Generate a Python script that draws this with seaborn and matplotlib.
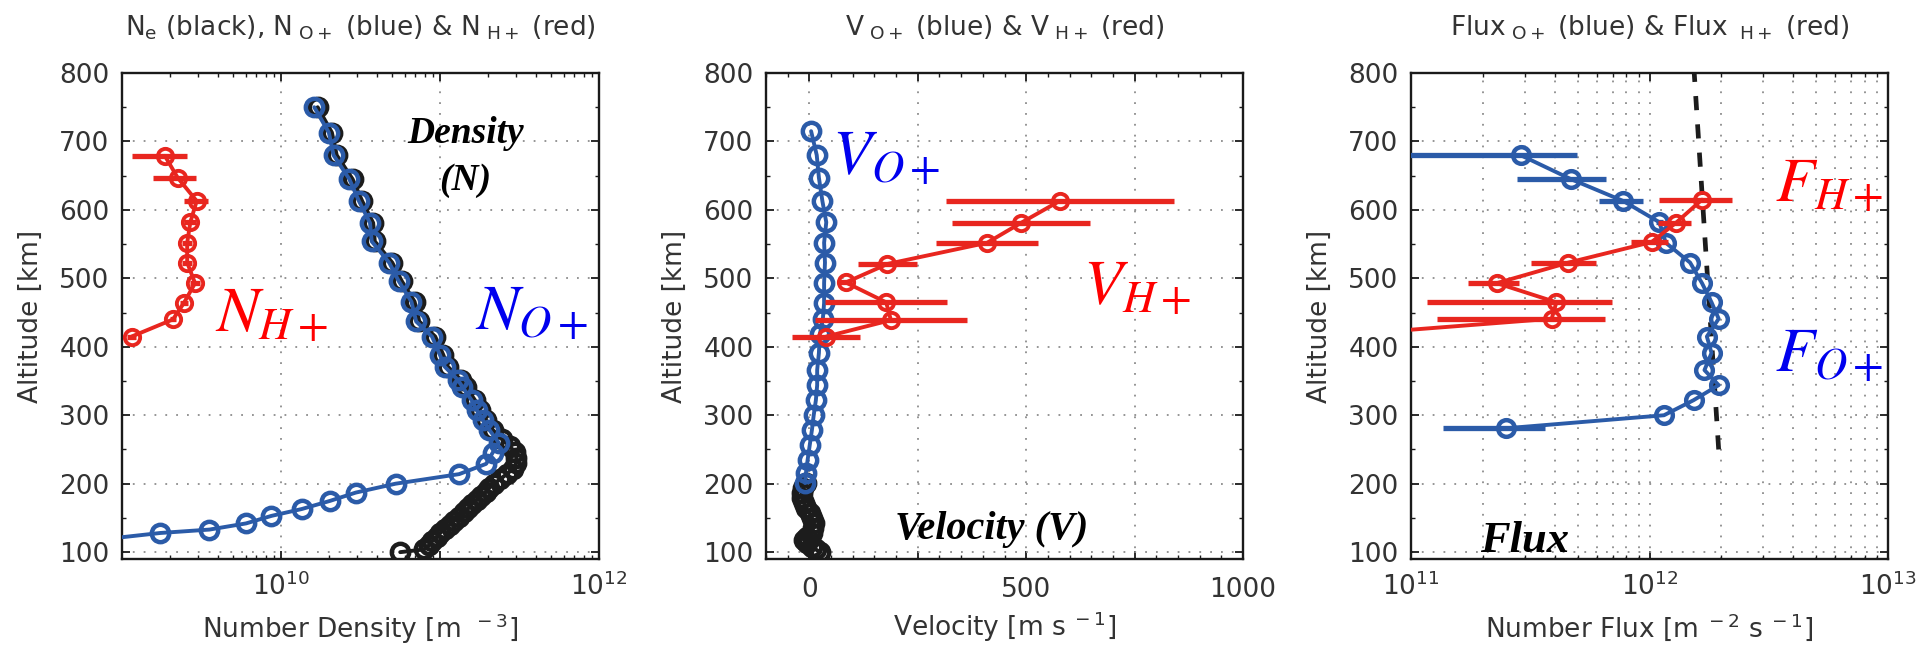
import matplotlib
matplotlib.use("Agg")
import matplotlib.pyplot as plt
import numpy as np
import pandas as pd
import seaborn as sns
from matplotlib.ticker import FixedLocator, FixedFormatter, LogLocator, MultipleLocator, NullFormatter

# ---------------- Density profiles [m^-3] ----------------
ne_alt = [100, 104, 110, 116, 122, 128, 134, 140, 146, 152, 158, 164, 170, 176, 182, 188,
          194, 200, 207, 214, 222, 230, 238, 246, 255, 265, 279, 293, 308, 322, 342, 352,
          371, 388, 415, 437, 466, 496, 523, 554, 581, 613, 645, 680, 713, 750]
ne_val = [5.62e10, 7.94e10, 8.51e10, 8.91e10, 9.55e10, 1.00e11, 1.07e11, 1.15e11, 1.23e11,
          1.32e11, 1.41e11, 1.51e11, 1.58e11, 1.70e11, 1.82e11, 1.95e11, 2.04e11, 2.19e11,
          2.40e11, 2.63e11, 2.88e11, 3.02e11, 3.02e11, 2.95e11, 2.75e11, 2.45e11, 2.14e11,
          1.95e11, 1.78e11, 1.66e11, 1.45e11, 1.35e11, 1.12e11, 1.05e11, 9.33e10, 7.41e10,
          6.92e10, 5.75e10, 5.01e10, 3.89e10, 3.80e10, 3.24e10, 2.82e10, 2.24e10, 2.09e10,
          1.70e10]

no_alt = [118, 128, 133, 142, 153, 163, 175, 187, 200, 214, 229, 245, 260, 279, 293, 308,
          322, 342, 352, 371, 388, 415, 437, 466, 496, 523, 554, 581, 613, 645, 680, 713, 750]
no_val = [7.1e8, 1.74e9, 3.55e9, 6.03e9, 8.71e9, 1.35e10, 2.04e10, 2.95e10, 5.25e10,
          1.32e11, 1.95e11, 2.14e11, 2.34e11, 2.04e11, 1.86e11, 1.70e11, 1.58e11, 1.38e11,
          1.29e11, 1.07e11, 1.00e11, 8.91e10, 7.08e10, 6.61e10, 5.50e10, 4.79e10, 3.72e10,
          3.63e10, 3.09e10, 2.69e10, 2.14e10, 2.00e10, 1.62e10]

nh_alt = [415, 440, 464, 493, 523, 552, 582, 613, 647, 679]
nh_val = [1.15e9, 2.09e9, 2.45e9, 2.88e9, 2.57e9, 2.57e9, 2.69e9, 2.95e9, 2.24e9, 1.86e9]
nh_err = [0.08e9, 0.10e9, 0.15e9, 0.20e9, 0.20e9, 0.20e9, 0.25e9, 0.50e9, 0.68e9, 0.70e9]

# ---------------- Velocity profiles [m s^-1] ----------------
vn_alt = [100, 104, 108, 113, 118, 122, 128, 135, 142, 150, 157, 165, 172, 179, 186, 193, 201]
vn_val = [24, 15, 6, -5, -13, -5, 6, 8, 10, 6, 1, -8, -13, -16, -18, -15, -8]

vo_alt = [201, 215, 235, 257, 279, 300, 322, 344, 366, 391, 418, 440, 464, 493, 523, 552,
          582, 613, 647, 680, 715]
vo_val = [-10, -8, -4, 1, 6, 10, 15, 18, 18, 22, 24, 31, 34, 34, 36, 34, 39, 30, 22, 17, 4]

vh_alt = [415, 439, 465, 494, 521, 552, 581, 613]
vh_val = [39, 188, 177, 84, 180, 410, 488, 577]
vh_err = [78, 175, 140, 15, 68, 118, 160, 263]

# ---------------- Flux profiles [m^-2 s^-1] ----------------
fo_alt = [281, 300, 322, 344, 366, 391, 415, 441, 465, 493, 523, 552, 582, 613, 645, 680]
fo_val = [2.51e11, 1.15e12, 1.53e12, 1.95e12, 1.70e12, 1.82e12, 1.74e12, 1.95e12, 1.82e12,
          1.66e12, 1.48e12, 1.17e12, 1.10e12, 7.76e11, 4.68e11, 2.88e11]
fo_err = [1.15e11, 0, 0, 0, 0, 0, 0, 0, 0, 0, 0, 0, 0.4e11, 1.6e11, 1.9e11, 2.1e11]

fh_alt = [415, 441, 465, 493, 523, 553, 581, 615]
fh_val = [4.3e10, 3.89e11, 4.07e11, 2.29e11, 4.57e11, 1.02e12, 1.29e12, 1.66e12]
fh_err = [0.05e10, 2.6e11, 2.9e11, 0.55e11, 1.4e11, 0.18e12, 0.2e12, 0.56e12]

limit_alt = [250, 800]
limit_val = [1.95e12, 1.54e12]

alt_ticks = [100, 200, 300, 400, 500, 600, 700, 800]

TEXT = "#333333"
BLUE = "#2b5ba8"
RED = "#e8261f"
BLACK = "#1c1c1c"
PURE_RED = "#ff0000"
PURE_BLUE = "#0000ee"

sns.set_theme(style="ticks")
plt.rcParams.update({
    "font.family": ["DejaVu Sans"],
    "mathtext.fontset": "dejavusans",
    "axes.edgecolor": "#1a1a1a",
    "axes.linewidth": 1.7,
    "xtick.color": "#1a1a1a",
    "ytick.color": "#1a1a1a",
    "xtick.labelcolor": TEXT,
    "ytick.labelcolor": TEXT,
    "axes.labelcolor": TEXT,
    "axes.titlecolor": TEXT,
})

fig = plt.figure(figsize=(19.17, 6.52), dpi=100)
W, H = 1917, 652
ax_w = 477 / W
ax_b = (H - 559) / H
ax_h = (559 - 73) / H
ax_n = fig.add_axes([122 / W, ax_b, ax_w, ax_h])
ax_v = fig.add_axes([766 / W, ax_b, ax_w, ax_h])
ax_f = fig.add_axes([1411 / W, ax_b, ax_w, ax_h])

GRID = dict(color="#8c8c8c", linestyle=(0, (1, 5)), linewidth=1.3)
FS = 19


def profile(ax, x, alt, color, ms=12.5, mew=3.2, lw=2.8, z=3):
    df = pd.DataFrame({"x": x, "alt": alt})
    sns.lineplot(data=df, x="x", y="alt", orient="y", sort=True, estimator=None,
                 errorbar=None, color=color, linewidth=lw, marker="o", markersize=ms,
                 markerfacecolor="none", markeredgecolor=color, markeredgewidth=mew,
                 ax=ax, zorder=z)


def bars(ax, x, alt, err, color, z=3):
    ax.errorbar(x, alt, xerr=err, fmt="none", ecolor=color, elinewidth=3.8,
                capsize=0, zorder=z)


def frame(ax):
    ax.set_ylim(90, 800)
    ax.yaxis.set_major_locator(FixedLocator(alt_ticks))
    ax.yaxis.set_minor_locator(MultipleLocator(50))
    ax.tick_params(which="both", direction="in", top=True, right=True)
    ax.tick_params(which="major", length=6, width=1.3, labelsize=FS)
    ax.tick_params(which="minor", length=3, width=1.0)
    ax.tick_params(axis="y", pad=9)
    ax.set_ylabel("Altitude [km]", fontsize=FS, labelpad=11)
    ax.grid(True, which="major", **GRID)
    for s in ax.spines.values():
        s.set_visible(True)


# ---- Density panel ----
ax = ax_n
ax.set_xscale("log")
profile(ax, ne_val, ne_alt, BLACK, z=2)
profile(ax, no_val, no_alt, BLUE, z=3)
bars(ax, nh_val, nh_alt, nh_err, RED, z=4)
profile(ax, nh_val, nh_alt, RED, ms=11, mew=2.8, z=4)
ax.set_xlim(1e9, 1e12)
frame(ax)
ax.xaxis.set_major_locator(FixedLocator([1e9, 1e10, 1e11, 1e12]))
ax.xaxis.set_major_formatter(FixedFormatter(["", r"$10^{10}$", "", r"$10^{12}$"]))
ax.xaxis.set_minor_locator(LogLocator(base=10, subs=np.arange(2, 10)))
ax.xaxis.set_minor_formatter(NullFormatter())
ax.tick_params(axis="x", pad=10)
ax.set_xlabel(r"Number Density [m$^{\ \ -3}$]", fontsize=FS, labelpad=7)
ax.set_title(r"N$_{\mathrm{e}}$ (black), N$_{\ \mathrm{O+}}$ (blue) & N$_{\ \mathrm{H+}}$ (red)",
             fontsize=FS, pad=27)
ax.text(3.85e9, 422, r"$N_{H+}$", color=PURE_RED, fontsize=46, math_fontfamily="stix",
        ha="left", va="baseline", zorder=6)
ax.text(1.66e11, 425, r"$N_{O+}$", color=PURE_BLUE, fontsize=46, math_fontfamily="stix",
        ha="left", va="baseline", zorder=6)
ax.text(1.45e11, 698, "Density", family="Liberation Serif", style="italic",
        weight="bold", fontsize=27, color="black", ha="center", va="baseline", zorder=6)
ax.text(1.45e11, 629, "(N)", family="Liberation Serif", style="italic",
        weight="bold", fontsize=27, color="black", ha="center", va="baseline", zorder=6)

# ---- Velocity panel ----
ax = ax_v
profile(ax, vn_val, vn_alt, BLACK, z=2)
profile(ax, vo_val, vo_alt, BLUE, z=3)
bars(ax, vh_val, vh_alt, vh_err, RED, z=4)
profile(ax, vh_val, vh_alt, RED, ms=11, mew=2.8, z=4)
ax.set_xlim(-100, 1000)
frame(ax)
ax.xaxis.set_major_locator(FixedLocator([0, 250, 500, 750, 1000]))
ax.xaxis.set_major_formatter(FixedFormatter(["0", "", "500", "", "1000"]))
ax.xaxis.set_minor_locator(MultipleLocator(50))
ax.tick_params(axis="x", pad=13)
ax.set_xlabel(r"Velocity [m s$^{\ -1}$]", fontsize=FS, labelpad=5)
ax.set_title(r"V$_{\ \mathrm{O+}}$ (blue) & V$_{\ \mathrm{H+}}$ (red)", fontsize=FS, pad=27)
ax.text(53, 651, r"$V_{O+}$", color=PURE_BLUE, fontsize=46, math_fontfamily="stix",
        ha="left", va="baseline", zorder=6)
ax.text(632, 461, r"$V_{H+}$", color=PURE_RED, fontsize=46, math_fontfamily="stix",
        ha="left", va="baseline", zorder=6)
ax.text(421, 119, "Velocity (V)", family="Liberation Serif", style="italic",
        weight="bold", fontsize=29, color="black", ha="center", va="baseline", zorder=6)

# ---- Flux panel ----
ax = ax_f
ax.set_xscale("log")
sns.lineplot(x=limit_val, y=limit_alt, orient="y", sort=True, estimator=None,
             errorbar=None, color=BLACK, linewidth=3.4, ax=ax, zorder=2)
ax.lines[-1].set_dashes((3, 3))
bars(ax, fo_val, fo_alt, fo_err, BLUE, z=3)
profile(ax, fo_val, fo_alt, BLUE, ms=12, mew=3.2, z=3)
bars(ax, fh_val, fh_alt, fh_err, RED, z=4)
profile(ax, fh_val, fh_alt, RED, ms=11, mew=2.8, z=4)
ax.set_xlim(1e11, 1e13)
frame(ax)
ax.xaxis.set_major_locator(FixedLocator([1e11, 1e12, 1e13]))
ax.xaxis.set_major_formatter(FixedFormatter([r"$10^{11}$", r"$10^{12}$", r"$10^{13}$"]))
ax.xaxis.set_minor_locator(LogLocator(base=10, subs=np.arange(2, 10)))
ax.xaxis.set_minor_formatter(NullFormatter())
ax.grid(True, which="minor", axis="x", **GRID)
ax.tick_params(axis="x", pad=10)
ax.set_xlabel(r"Number Flux [m$^{\ -2}$ s$^{\ -1}$]", fontsize=FS, labelpad=7)
ax.set_title(r"Flux$_{\ \mathrm{O+}}$ (blue) & Flux$_{\ \ \mathrm{H+}}$ (red)", fontsize=FS, pad=27)
ax.text(3.36e12, 612, r"$F_{H+}$", color=PURE_RED, fontsize=46, math_fontfamily="stix",
        ha="left", va="baseline", zorder=6)
ax.text(3.36e12, 364, r"$F_{O+}$", color=PURE_BLUE, fontsize=46, math_fontfamily="stix",
        ha="left", va="baseline", zorder=6)
ax.text(1.95e11, 100, "Flux", family="Liberation Serif", style="italic",
        weight="bold", fontsize=32, color="black", ha="left", va="baseline", zorder=6)

for a in (ax_n, ax_v, ax_f):
    leg = a.get_legend()
    if leg is not None:
        leg.remove()

fig.savefig("out.png", dpi=100)
